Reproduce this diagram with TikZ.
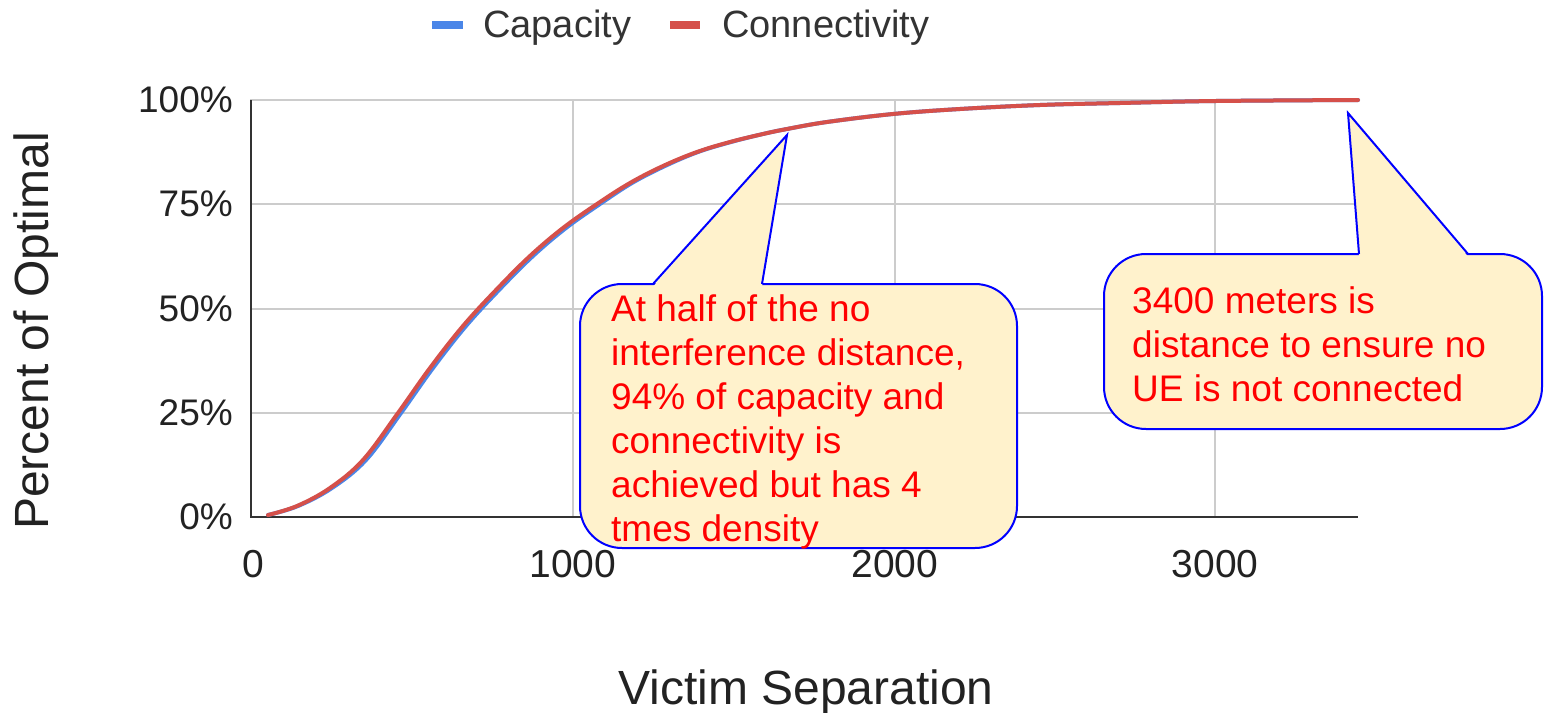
\documentclass[tikz,border=0pt]{standalone}
\usepackage{fontspec}
\setmainfont{Liberation Sans}
\definecolor{gsblue}{HTML}{4A86E8}
\definecolor{gsred}{HTML}{D5504A}
\definecolor{gridc}{HTML}{CCCCCC}
\definecolor{axisc}{HTML}{333333}
\definecolor{labc}{HTML}{222222}
\definecolor{callfill}{HTML}{FFF2CC}
\tikzset{
  gridline/.style={draw=gridc, line width=1.5pt},
  axisline/.style={draw=axisc, line width=2pt},
  series/.style={line width=4pt, line join=round, line cap=round},
  ticklab/.style={font=\fontsize{37}{44}\selectfont, text=labc, inner sep=0pt},
  xticklab/.style={font=\fontsize{39}{44}\selectfont, text=labc, inner sep=0pt},
  legtext/.style={font=\fontsize{38}{44}\selectfont, text=axisc, inner sep=0pt, anchor=base west},
  legdash/.style={line width=8pt},
  callbox/.style={draw=blue, fill=callfill, line width=2pt, rounded corners=42pt},
  callptr/.style={draw=blue, line width=2pt, line join=miter},
  calltext/.style={font=\fontsize{37}{44}\selectfont, text=red, align=left, inner sep=0pt, anchor=north west},
}
\begin{document}
\begin{tikzpicture}[x=1pt,y=-1pt]
\useasboundingbox[fill=white] (0,0) rectangle (1552,712);
% grid
\foreach \yy in {100,204,309,413} \draw[gridline] (250,\yy) -- (1358,\yy);
\foreach \xx in {573,895,1215} \draw[gridline] (\xx,100) -- (\xx,517);
% axes
\coordinate (o) at (251,517);
\coordinate (ytop) at (251,100);
\coordinate (xend) at (1358,517);
\draw[axisline] (ytop) -- (o) -- (xend);
% y tick labels
\node[ticklab, anchor=base east] (y100) at (233,112) {100\%};
\node[ticklab, anchor=base east] (y75) at (233,216) {75\%};
\node[ticklab, anchor=base east] (y50) at (233,321) {50\%};
\node[ticklab, anchor=base east] (y25) at (233,425) {25\%};
\node[ticklab, anchor=base east] (y0) at (233,529) {0\%};
% x tick labels
\node[xticklab, anchor=base] (x0) at (253,577) {0};
\node[xticklab, anchor=base] (x1) at (573,577) {1000};
\node[xticklab, anchor=base] (x2) at (895,577) {2000};
\node[xticklab, anchor=base] (x3) at (1215,577) {3000};
% axis titles
\node[font=\fontsize{48}{50}\selectfont, text=labc, inner sep=0pt, anchor=base] (xtitle) at (806,704) {Victim Separation};
\node[font=\fontsize{48}{50}\selectfont, text=labc, inner sep=0pt, anchor=base, rotate=90] (ytitle) at (48,331) {Percent of Optimal};
% legend
\coordinate (lb1) at (432,25); \coordinate (lb2) at (463,25);
\coordinate (lr1) at (670,25); \coordinate (lr2) at (700,25);
\draw[gsblue, legdash] (lb1) -- (lb2);
\node[legtext] (legcap) at (483,37) {Capacity};
\draw[gsred, legdash] (lr1) -- (lr2);
\node[legtext] (legcon) at (722,37) {Connectivity};
% curves
\draw[series, gsblue] plot[smooth, tension=0.6] coordinates {
 (268,515) (298,506) (332,488) (366,460) (401,413) (433,368) (466,326) (500,289) (533,256) (566,228) (600,204) (632,183) (665,166) (698,152) (731,142) (763,134) (787,129) (827,122) (893,114) (960,109) (1040,105) (1120,103) (1216,101) (1358,100)};
\draw[series, gsred] plot[smooth, tension=0.6] coordinates {
 (268,515) (297,506) (330,488) (363,460) (398,413) (430,368) (463,326) (497,289) (530,256) (563,228) (597,204) (630,183) (663,166) (697,152) (730,142) (763,134) (787,129) (827,122) (893,114) (960,109) (1040,105) (1120,103) (1216,101) (1358,100)};
% callout 1
\coordinate (t1) at (787,135);
\coordinate (b1l) at (653,284); \coordinate (b1r) at (762,284);
\draw[callbox] (580,284) rectangle (1017,548);
\fill[callfill] (653,286.5) -- (t1) -- (762,286.5) -- cycle;
\draw[callptr] (b1l) -- (t1) -- (b1r);
\node[calltext] (c1) at (611,294) {At half of the no\\interference distance,\\94\% of capacity and\\connectivity is\\achieved but has 4\\tmes density};
% callout 2
\coordinate (t2) at (1348,113);
\coordinate (b2l) at (1359,254); \coordinate (b2r) at (1468,254);
\draw[callbox] (1104,254) rectangle (1542,429);
\fill[callfill] (1359,256.5) -- (t2) -- (1468,256.5) -- cycle;
\draw[callptr] (b2l) -- (t2) -- (b2r);
\node[calltext] (c2) at (1132,286) {3400 meters is\\distance to ensure no\\UE is not connected};
\end{tikzpicture}
\end{document}
